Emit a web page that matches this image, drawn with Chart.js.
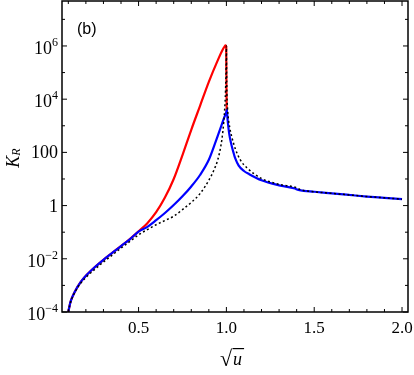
<!DOCTYPE html>
<html>
<head>
<meta charset="utf-8">
<script src="https://cdn.jsdelivr.net/npm/chart.js@4.4.1/dist/chart.umd.min.js"></script>
<style>
  html, body { margin: 0; padding: 0; background: #fff; }
  #wrap { width: 414px; height: 375px; }
</style>
</head>
<body>
<div id="wrap"><canvas id="myChart" width="414" height="375"></canvas></div>
<script>
// values, K_R given as log10 (exponents)
var redX = [0.1, 0.11, 0.12, 0.14, 0.17, 0.2, 0.25, 0.3, 0.35, 0.4, 0.45, 0.5, 0.55, 0.6, 0.65, 0.7, 0.75, 0.8, 0.85, 0.9, 0.95, 0.98, 0.99, 0.995, 0.999, 1.0005, 1.002];
var redLogK = [-4, -3.68, -3.48, -3.2, -2.88, -2.64, -2.32, -2.04, -1.78, -1.52, -1.26, -0.97, -0.66, -0.25, 0.3, 1.0, 1.9, 2.85, 3.75, 4.65, 5.45, 5.88, 5.98, 6.02, 5.98, 4.3, 3.45];

var blueX = [0.1, 0.11, 0.12, 0.14, 0.17, 0.2, 0.25, 0.3, 0.35, 0.4, 0.45, 0.5, 0.55, 0.6, 0.65, 0.7, 0.75, 0.8, 0.85, 0.9, 0.94, 0.97, 0.99, 1.0, 1.003, 1.006, 1.01, 1.015, 1.02, 1.03, 1.04, 1.05, 1.07, 1.1, 1.13, 1.2, 1.3, 1.39, 1.405, 1.415, 1.5, 1.6, 1.7, 1.8, 1.9, 2.0];
var blueLogK = [-4, -3.68, -3.48, -3.2, -2.88, -2.64, -2.32, -2.04, -1.78, -1.52, -1.27, -0.98, -0.8, -0.55, -0.28, 0.02, 0.35, 0.72, 1.15, 1.72, 2.42, 2.98, 3.35, 3.52, 3.6, 3.3, 3.02, 2.75, 2.55, 2.25, 2.0, 1.78, 1.5, 1.3, 1.18, 0.95, 0.76, 0.64, 0.6, 0.58, 0.52, 0.46, 0.4, 0.34, 0.29, 0.24];

var blackX = [0.1, 0.11, 0.12, 0.14, 0.17, 0.2, 0.25, 0.3, 0.35, 0.4, 0.45, 0.5, 0.55, 0.6, 0.65, 0.7, 0.75, 0.8, 0.85, 0.9, 0.93, 0.95, 0.97, 0.98, 0.99, 0.995, 0.999, 1.0, 1.001, 1.003, 1.006, 1.01, 1.02, 1.03, 1.05, 1.08, 1.12, 1.2, 1.3, 1.4, 1.42, 1.5, 1.6, 1.7, 1.8, 1.9, 2.0];
var blackLogK = [-4, -3.7, -3.5, -3.22, -2.92, -2.7, -2.4, -2.12, -1.86, -1.6, -1.35, -1.1, -0.9, -0.72, -0.56, -0.4, -0.15, 0.12, 0.45, 0.95, 1.35, 1.7, 2.3, 2.8, 3.6, 4.3, 5.4, 6.0, 5.2, 4.2, 3.7, 3.35, 2.9, 2.6, 2.15, 1.71, 1.4, 1.02, 0.8, 0.67, 0.6, 0.52, 0.46, 0.4, 0.34, 0.29, 0.24];

var xTickValues = [0.5, 1.0, 1.5, 2.0];
var xTickLabels = ['0.5', '1.0', '1.5', '2.0'];
var yTickValues = [1e-4, 1e-2, 1, 100, 1e4, 1e6];
var yTickBase = ['10', '10', '1', '100', '10', '10'];
var yTickPower = ['\u22124', '\u22122', '', '', '4', '6'];
var panelLabel = '(b)';

function toPoints(xs, logs) {
    return xs.map(function (x, i) { return { x: x, y: Math.pow(10, logs[i]) }; });
}

// frame with inward ticks on all four sides, plus titles and y labels
var frameTicks = {
    id: 'frameTicks',
    afterDraw: function (chart) {
        var ctx = chart.ctx, a = chart.chartArea, sx = chart.scales.x, sy = chart.scales.y;
        ctx.save();
        ctx.strokeStyle = '#000';
        ctx.lineWidth = 1.5;
        ctx.strokeRect(a.left, a.top, a.right - a.left, a.bottom - a.top);
        ctx.lineWidth = 1;
        ctx.beginPath();
        for (var k = 1; k <= 20; k++) {
            var px = sx.getPixelForValue(k / 10);
            var len = (k % 5 === 0) ? 5 : 3;
            ctx.moveTo(px, a.bottom); ctx.lineTo(px, a.bottom - len);
            ctx.moveTo(px, a.top); ctx.lineTo(px, a.top + len);
        }
        for (var e = -4; e <= 7; e++) {
            var py = sy.getPixelForValue(Math.pow(10, e));
            var l2 = (e % 2 === 0) ? 5 : 3;
            ctx.moveTo(a.left, py); ctx.lineTo(a.left + l2, py);
            ctx.moveTo(a.right, py); ctx.lineTo(a.right - l2, py);
        }
        ctx.stroke();

        ctx.fillStyle = '#000';
        ctx.textAlign = 'left';
        ctx.textBaseline = 'alphabetic';

        // y tick labels with superscript powers
        var rightEdge = a.left - 4;
        yTickValues.forEach(function (v, i) {
            var ty = sy.getPixelForValue(v);
            ctx.font = '18px "Liberation Serif"';
            var bw = ctx.measureText(yTickBase[i]).width;
            ctx.font = '12px "Liberation Serif"';
            var pw = yTickPower[i] ? ctx.measureText(yTickPower[i]).width : 0;
            var x0 = rightEdge - bw - pw;
            var base = yTickPower[i] ? ty + 8 : ty + 6;
            ctx.font = '18px "Liberation Serif"';
            ctx.fillText(yTickBase[i], x0, base);
            if (yTickPower[i]) {
                ctx.font = '12px "Liberation Serif"';
                ctx.fillText(yTickPower[i], x0 + bw, base - 8);
            }
        });

        // panel label
        ctx.font = '16px "Liberation Sans"';
        ctx.textBaseline = 'middle';
        ctx.fillText(panelLabel, 77, 30);

        // x title: sqrt(u)
        ctx.textBaseline = 'alphabetic';
        ctx.font = '22px "Liberation Serif"';
        var r = ctx.measureText('\u221A');
        var rx = 220, base0 = 366;
        ctx.fillText('\u221A', rx, base0);
        var topY = base0 - r.actualBoundingBoxAscent;
        ctx.font = 'italic 18px "Liberation Serif"';
        var ux = rx + r.width + 1;
        ctx.fillText('u', ux, base0 - 1);
        var uw = ctx.measureText('u').width;
        ctx.lineWidth = 1.2;
        ctx.beginPath();
        ctx.moveTo(rx + r.actualBoundingBoxRight - 0.5, topY + 0.6);
        ctx.lineTo(ux + uw + 2, topY + 0.6);
        ctx.stroke();

        // y title: K_R
        ctx.translate(18.5, 158);
        ctx.rotate(-Math.PI / 2);
        ctx.font = 'italic 18px "Liberation Serif"';
        var kw = ctx.measureText('K').width;
        ctx.font = 'italic 12px "Liberation Serif"';
        var rw = ctx.measureText('R').width;
        var start = -(kw + rw) / 2;
        ctx.font = 'italic 18px "Liberation Serif"';
        ctx.fillText('K', start, 0);
        ctx.font = 'italic 12px "Liberation Serif"';
        ctx.fillText('R', start + kw, 1);
        ctx.restore();
    }
};

var tickFont = { family: '"Liberation Serif"', size: 17 };

var ctx = document.getElementById('myChart').getContext('2d');
var chart = new Chart(ctx, {
    type: 'line',
    data: {
        datasets: [{
            label: 'black',
            data: toPoints(blackX, blackLogK),
            borderColor: '#000',
            borderWidth: 1.5,
            borderDash: [2, 2.5],
            pointRadius: 0,
            cubicInterpolationMode: 'monotone'
        }, {
            label: 'blue',
            data: toPoints(blueX, blueLogK),
            borderColor: '#0000ff',
            borderWidth: 2.2,
            pointRadius: 0,
            cubicInterpolationMode: 'monotone'
        }, {
            label: 'red',
            data: toPoints(redX, redLogK),
            borderColor: '#ff0000',
            borderWidth: 2.2,
            pointRadius: 0,
            cubicInterpolationMode: 'monotone'
        }]
    },
    options: {
        responsive: false,
        animation: false,
        layout: { padding: { top: 1, right: 6, left: 0, bottom: 0 } },
        plugins: { legend: { display: false }, tooltip: { enabled: false } },
        scales: {
            x: {
                type: 'linear',
                min: 0.064,
                max: 2.034,
                afterBuildTicks: function (s) { s.ticks = xTickValues.map(function (v) { return { value: v }; }); },
                ticks: {
                    callback: function (v, i) { return xTickLabels[i]; },
                    font: tickFont, color: '#000', padding: 6, maxRotation: 0, autoSkip: false
                },
                grid: { display: false, drawTicks: false },
                border: { display: false },
                afterFit: function (s) { s.height = 63; s.paddingLeft = 0; s.paddingRight = 0; }
            },
            y: {
                type: 'logarithmic',
                min: 1e-4,
                max: 4.9e7,
                afterBuildTicks: function (s) { s.ticks = yTickValues.map(function (v) { return { value: v }; }); },
                ticks: { display: false },
                grid: { display: false, drawTicks: false },
                border: { display: false },
                afterFit: function (s) { s.width = 62; s.paddingTop = 0; s.paddingBottom = 0; }
            }
        }
    },
    plugins: [frameTicks]
});
</script>
</body>
</html>
